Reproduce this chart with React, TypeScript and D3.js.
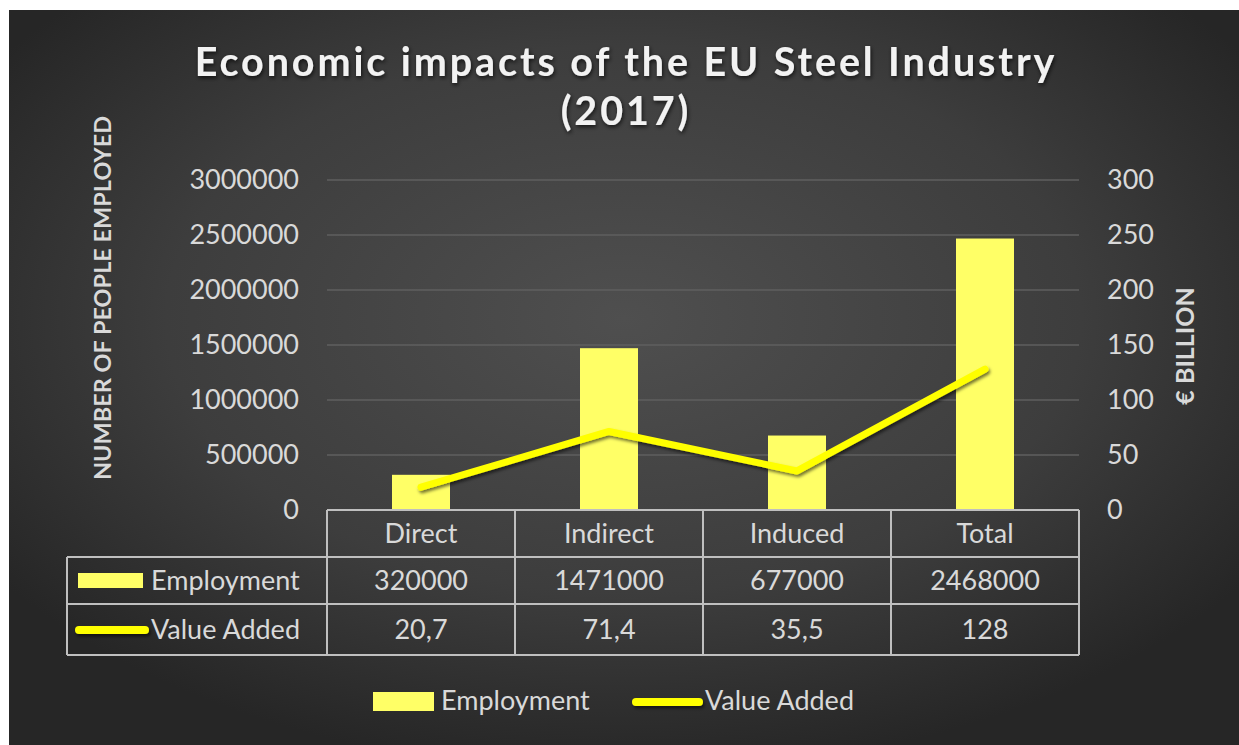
import React from 'react';
import * as d3 from 'd3';

const categories = ['Direct', 'Indirect', 'Induced', 'Total'];
const employment = [320000, 1471000, 677000, 2468000];
const valueAdded = [20.7, 71.4, 35.5, 128];
const valueAddedLabels = ['20,7', '71,4', '35,5', '128'];
const leftTicks = [0, 500000, 1000000, 1500000, 2000000, 2500000, 3000000];
const rightTicks = [0, 50, 100, 150, 200, 250, 300];

const W = 1239;
const H = 745;
const font = "Lato, 'Open Sans', sans-serif";
const barColor = '#ffff66';
const lineColor = '#ffff00';
const textColor = '#d9d9d9';
const tableStroke = '#bfbfbf';

const App: React.FC = () => {
  const plotLeft = 327;
  const plotRight = 1079;
  const plotTop = 180;
  const plotBottom = 510;

  const x = d3.scaleBand().domain(categories).range([plotLeft, plotRight]).paddingInner(0).paddingOuter(0);
  const yLeft = d3.scaleLinear().domain([0, 3000000]).range([plotBottom, plotTop]);
  const yRight = d3.scaleLinear().domain([0, 300]).range([plotBottom, plotTop]);
  const barW = 58;

  const line = d3.line<number>()
    .x((_, i) => (x(categories[i]) as number) + x.bandwidth() / 2)
    .y(d => yRight(d));

  const tableLeft = 67;
  const row0 = plotBottom;
  const row1 = 557;
  const row2 = 604;
  const row3 = 655;

  return (
    <svg width={W} height={H} style={{ position: 'absolute', left: 0, top: 0 }}>
      <defs>
        <radialGradient id="bg" cx="50%" cy="42%" r="62%">
          <stop offset="0%" stopColor="#4f4f4f" />
          <stop offset="60%" stopColor="#3d3d3d" />
          <stop offset="100%" stopColor="#262626" />
        </radialGradient>
        <filter id="shadow" filterUnits="userSpaceOnUse" x={0} y={0} width={W} height={H}>
          <feDropShadow dx="1.5" dy="2.5" stdDeviation="1.8" floodColor="#000" floodOpacity="0.55" />
        </filter>
        <filter id="tshadow" x="-5%" y="-20%" width="110%" height="140%">
          <feDropShadow dx="1" dy="2" stdDeviation="2" floodColor="#000" floodOpacity="0.7" />
        </filter>
      </defs>
      <rect width={W} height={H} fill="#ffffff" />
      <rect x={9} y={10} width={W - 9} height={H - 10} fill="url(#bg)" />

      {/* title */}
      <g fontFamily={font} fontWeight="bold" fill="#f2f2f2" textAnchor="middle" fontSize={39.5} letterSpacing={2.9} filter="url(#tshadow)">
        <text x={626} y={76}>Economic impacts of the EU Steel Industry</text>
        <text x={626} y={125}>(2017)</text>
      </g>

      {/* gridlines */}
      {leftTicks.slice(1).map(t => (
        <line key={t} x1={plotLeft} x2={plotRight} y1={yLeft(t)} y2={yLeft(t)} stroke="#5f5f5f" strokeWidth={1.5} />
      ))}

      {/* left ticks */}
      {leftTicks.map(t => (
        <text key={t} x={299} y={yLeft(t)} dy="0.35em" textAnchor="end" fontFamily={font} fontSize={27} fill={textColor}>{t}</text>
      ))}
      {/* right ticks */}
      {rightTicks.map(t => (
        <text key={t} x={1107} y={yRight(t)} dy="0.35em" textAnchor="start" fontFamily={font} fontSize={27} fill={textColor}>{t}</text>
      ))}

      {/* axis titles */}
      <text transform="translate(111,298) rotate(-90)" textAnchor="middle" fontFamily={font} fontWeight="bold" fontSize={23.5} fill={textColor}>NUMBER OF PEOPLE EMPLOYED</text>
      <text transform="translate(1194,346) rotate(-90)" textAnchor="middle" fontFamily={font} fontWeight="bold" fontSize={25} fill={textColor}>€ BILLION</text>

      {/* bars */}
      {employment.map((v, i) => (
        <rect key={categories[i]}
          x={(x(categories[i]) as number) + x.bandwidth() / 2 - barW / 2}
          y={yLeft(v)} width={barW} height={plotBottom - yLeft(v)} fill={barColor} />
      ))}

      {/* line */}
      <path d={line(valueAdded) as string} fill="none" stroke={lineColor} strokeWidth={7} strokeLinejoin="round" strokeLinecap="round" filter="url(#shadow)" />

      {/* data table */}
      <g stroke={tableStroke} strokeWidth={2} fill="none">
        <line x1={plotLeft} x2={plotRight} y1={row0} y2={row0} />
        <line x1={tableLeft} x2={plotRight} y1={row1} y2={row1} />
        <line x1={tableLeft} x2={plotRight} y1={row2} y2={row2} />
        <line x1={tableLeft} x2={plotRight} y1={row3} y2={row3} />
        <line x1={tableLeft} x2={tableLeft} y1={row1} y2={row3} />
        <line x1={plotLeft} x2={plotLeft} y1={row0} y2={row3} />
        {categories.map(c => (
          <line key={c} x1={(x(c) as number) + x.bandwidth()} x2={(x(c) as number) + x.bandwidth()} y1={row0} y2={row3} />
        ))}
      </g>
      <g fontFamily={font} fontSize={27} fill={textColor} textAnchor="middle">
        {categories.map((c, i) => (
          <g key={c}>
            <text x={(x(c) as number) + x.bandwidth() / 2} y={(row0 + row1) / 2} dy="0.35em">{c}</text>
            <text x={(x(c) as number) + x.bandwidth() / 2} y={(row1 + row2) / 2} dy="0.35em">{employment[i]}</text>
            <text x={(x(c) as number) + x.bandwidth() / 2} y={(row2 + row3) / 2} dy="0.35em">{valueAddedLabels[i]}</text>
          </g>
        ))}
      </g>
      <rect x={78} y={573} width={65} height={15} fill={barColor} />
      <text x={151} y={(row1 + row2) / 2} dy="0.35em" fontFamily={font} fontSize={27} fill={textColor}>Employment</text>
      <line x1={79} x2={145} y1={630} y2={630} stroke={lineColor} strokeWidth={8} strokeLinecap="round" filter="url(#shadow)" />
      <text x={151} y={(row2 + row3) / 2} dy="0.35em" fontFamily={font} fontSize={27} fill={textColor}>Value Added</text>

      {/* legend */}
      <rect x={373} y={692} width={61} height={19} fill={barColor} />
      <text x={441} y={701} dy="0.35em" fontFamily={font} fontSize={27} fill={textColor}>Employment</text>
      <line x1={636} x2={699} y1={702} y2={702} stroke={lineColor} strokeWidth={8} strokeLinecap="round" filter="url(#shadow)" />
      <text x={705} y={701} dy="0.35em" fontFamily={font} fontSize={27} fill={textColor}>Value Added</text>
    </svg>
  );
};

export default App;
